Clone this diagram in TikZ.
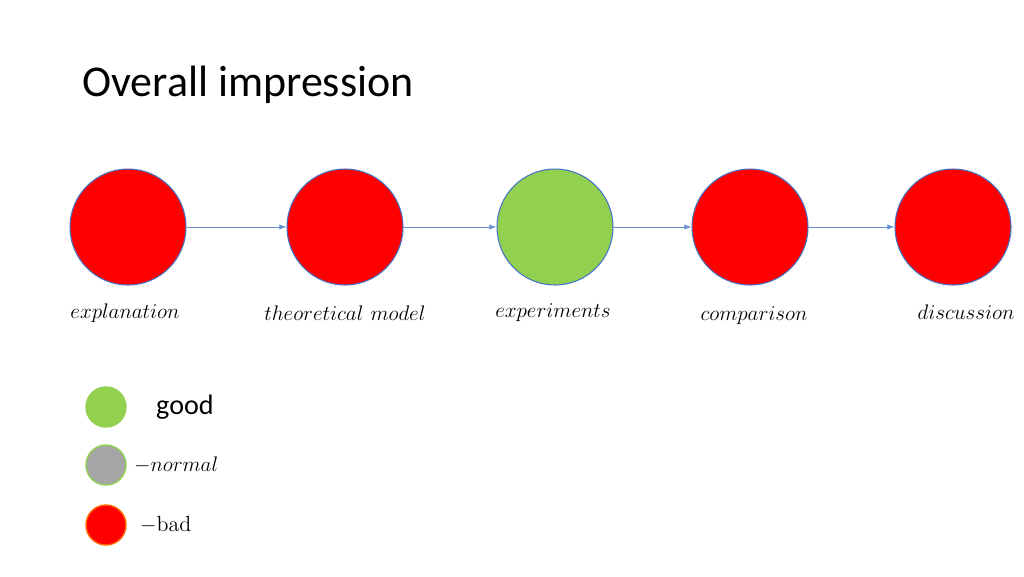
\documentclass[tikz,border=0pt]{standalone}
\usepackage{fontspec}
\newfontfamily\carl{Carlito}
\usetikzlibrary{arrows.meta}
\definecolor{bad}{RGB}{255,0,0}
\definecolor{good}{RGB}{146,208,80}
\definecolor{norm}{RGB}{166,166,166}
\definecolor{edge}{RGB}{68,114,196}
\tikzset{x=0.02cm,y=-0.02cm,
 big/.style={circle,draw=edge,line width=0.6pt,minimum size=2.32cm,inner sep=0pt},
 small/.style={circle,line width=0.8pt,minimum size=0.8cm,inner sep=0pt},
 lab/.style={font=\fontsize{12.5}{14}\selectfont},
 link/.style={draw=edge!80,line width=0.5pt,-{Latex[length=4pt,width=3pt]}}}
\begin{document}
\begin{tikzpicture}
\useasboundingbox (0,0) rectangle (1024,576);
\node[anchor=west,font=\carl\fontsize{25}{30}\selectfont] (title) at (76,85) {Overall impression};
\node[big,fill=bad] (a) at (128,227) {};
\node[big,fill=bad] (b) at (345,227) {};
\node[big,fill=good] (c) at (555,227) {};
\node[big,fill=bad] (d) at (750,227) {};
\node[big,fill=bad] (e) at (953,227) {};
\draw[link] (a) -- (b);
\draw[link] (b) -- (c);
\draw[link] (c) -- (d);
\draw[link] (d) -- (e);
\node[lab] (la) at (125,313) {$explanation$};
\node[lab] (lb) at (345,313) {$theoretical\ model$};
\node[lab] (lc) at (553,313) {$experiments$};
\node[lab] (ld) at (754,316) {$comparison$};
\node[lab] (le) at (966,312) {$discussion$};
\node[small,fill=good,draw=good] (g1) at (106,407) {};
\node[small,fill=norm,draw=good] (g2) at (106,465) {};
\node[small,fill=bad,draw=orange!80!bad] (g3) at (106,525) {};
\node[anchor=west,font=\carl\fontsize{16}{18}\selectfont] (t1) at (150,407) {good};
\node[anchor=west,lab] (t2) at (128,465) {$-normal$};
\node[anchor=west,lab] (t3) at (134,525) {$-$bad};
\end{tikzpicture}
\end{document}
